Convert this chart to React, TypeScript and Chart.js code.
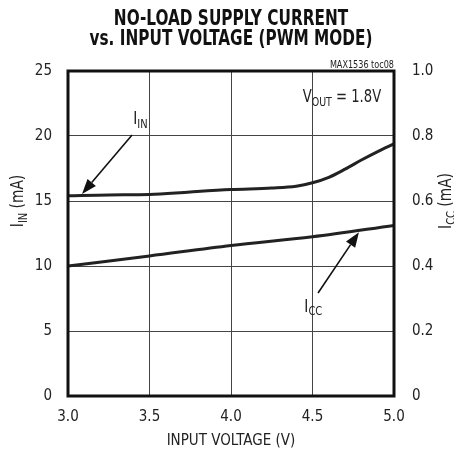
import React, { useEffect, useRef } from "react";
import { Chart, registerables } from "chart.js";

Chart.register(...registerables);

const FONT = "'Liberation Sans Narrow', 'DejaVu Sans Condensed', 'Arial Narrow', sans-serif";

const titleLines = ["NO-LOAD SUPPLY CURRENT", "vs. INPUT VOLTAGE (PWM MODE)"];
const noteText = "MAX1536 toc08";

const iinVoltages = [3.0, 3.25, 3.5, 3.75, 4.0, 4.25, 4.4, 4.5, 4.6, 4.7, 4.8, 4.9, 5.0];
const iinValues = [15.4, 15.47, 15.5, 15.7, 15.88, 16.0, 16.14, 16.4, 16.82, 17.45, 18.15, 18.8, 19.4];

const iccVoltages = [3.0, 3.5, 4.0, 4.5, 5.0];
const iccValues = [0.4, 0.431, 0.463, 0.49, 0.525];

const xTicks = [3.0, 3.5, 4.0, 4.5, 5.0];
const leftTicks = [0, 5, 10, 15, 20, 25];
const rightTicks = [0, 0.2, 0.4, 0.6, 0.8, 1.0];

// annotation anchors in data units (x: V, y: mA on left axis)
const iinArrow = { tail: [3.393, 20.08], tip: [3.086, 15.54], label: [3.40, 20.9] };
const iccArrow = { tail: [4.534, 7.92], tip: [4.785, 12.6], label: [4.45, 6.5] };
const voutLabel = [4.44, 22.6];

type Part = [string, boolean];

function partsWidth(ctx: CanvasRenderingContext2D, parts: Part[], size: number) {
  let w = 0;
  for (const [t, sub] of parts) {
    ctx.font = `${sub ? size * 0.72 : size}px ${FONT}`;
    w += ctx.measureText(t).width;
  }
  return w;
}

// draws text with subscripts, horizontally condensed by factor k
function drawParts(
  ctx: CanvasRenderingContext2D,
  parts: Part[],
  x: number,
  y: number,
  size: number,
  align: "left" | "center",
  k = 1
) {
  const w = partsWidth(ctx, parts, size);
  ctx.save();
  ctx.translate(x, y);
  ctx.scale(k, 1);
  let cx = align === "center" ? -w / 2 : 0;
  ctx.textAlign = "left";
  ctx.textBaseline = "alphabetic";
  for (const [t, sub] of parts) {
    ctx.font = `${sub ? size * 0.72 : size}px ${FONT}`;
    ctx.fillText(t, cx, sub ? size * 0.22 : 0);
    cx += ctx.measureText(t).width;
  }
  ctx.restore();
}

function arrow(ctx: CanvasRenderingContext2D, x1: number, y1: number, x2: number, y2: number) {
  const ang = Math.atan2(y2 - y1, x2 - x1);
  const hl = 15;
  const hw = 5.5;
  const bx = x2 - hl * Math.cos(ang);
  const by = y2 - hl * Math.sin(ang);
  ctx.beginPath();
  ctx.moveTo(x1, y1);
  ctx.lineTo(bx, by);
  ctx.lineWidth = 1.6;
  ctx.strokeStyle = "#111";
  ctx.stroke();
  ctx.beginPath();
  ctx.moveTo(x2, y2);
  ctx.lineTo(bx + hw * Math.sin(ang), by - hw * Math.cos(ang));
  ctx.lineTo(bx - hw * Math.sin(ang), by + hw * Math.cos(ang));
  ctx.closePath();
  ctx.fillStyle = "#111";
  ctx.fill();
}

const decorPlugin = {
  id: "decor",
  afterDraw(chart: any) {
    const { ctx, chartArea: a, scales } = chart;
    const xs = scales.x;
    const ys = scales.y;
    const px = (p: number[]) => [xs.getPixelForValue(p[0]), ys.getPixelForValue(p[1])];
    ctx.save();

    // frame
    ctx.lineWidth = 3;
    ctx.strokeStyle = "#111";
    ctx.strokeRect(a.left, a.top, a.right - a.left, a.bottom - a.top);

    // title (bold, condensed)
    ctx.fillStyle = "#111";
    const cx = (a.left + a.right) / 2;
    for (let i = 0; i < titleLines.length; i++) {
      ctx.save();
      ctx.translate(cx, 17 + i * 20);
      ctx.scale(0.81, 1);
      ctx.font = `bold 21px ${FONT}`;
      ctx.textAlign = "center";
      ctx.textBaseline = "alphabetic";
      ctx.fillText(titleLines[i], 0, 0);
      ctx.restore();
    }

    // note
    ctx.save();
    ctx.translate(a.right, a.top - 3);
    ctx.scale(0.9, 1);
    ctx.font = `10px ${FONT}`;
    ctx.textAlign = "right";
    ctx.fillStyle = "#222";
    ctx.fillText(noteText, 0, 0);
    ctx.restore();

    // axis titles
    ctx.fillStyle = "#222";
    ctx.font = `15px ${FONT}`;
    ctx.textAlign = "center";
    ctx.fillText("INPUT VOLTAGE (V)", cx, 437);

    const cy = ys.getPixelForValue(15);
    ctx.save();
    ctx.translate(10, cy);
    ctx.rotate(-Math.PI / 2);
    drawParts(ctx, [["I", false], ["IN", true], [" (mA)", false]], 0, 5, 17, "center", 0.9);
    ctx.restore();

    ctx.save();
    ctx.translate(a.right + 57, cy);
    ctx.rotate(-Math.PI / 2);
    drawParts(ctx, [["I", false], ["CC", true], [" (mA)", false]], 0, 0, 17, "center", 0.9);
    ctx.restore();

    // annotations
    ctx.fillStyle = "#222";
    const [vx, vy] = px(voutLabel);
    drawParts(ctx, [["V", false], ["OUT", true], [" = 1.8V", false]], vx, vy, 17, "left", 0.86);

    const [l1x, l1y] = px(iinArrow.label);
    drawParts(ctx, [["I", false], ["IN", true]], l1x, l1y, 17, "left", 0.9);
    const [t1x, t1y] = px(iinArrow.tail);
    const [h1x, h1y] = px(iinArrow.tip);
    arrow(ctx, t1x, t1y, h1x, h1y);

    const [l2x, l2y] = px(iccArrow.label);
    ctx.fillStyle = "#222";
    drawParts(ctx, [["I", false], ["CC", true]], l2x, l2y, 17, "left", 0.9);
    const [t2x, t2y] = px(iccArrow.tail);
    const [h2x, h2y] = px(iccArrow.tip);
    arrow(ctx, t2x, t2y, h2x, h2y);

    ctx.restore();
  },
};

export default function App() {
  const ref = useRef<HTMLCanvasElement | null>(null);

  useEffect(() => {
    if (!ref.current) return;
    const chart = new Chart(ref.current, {
      type: "line",
      data: {
        datasets: [
          {
            label: "IIN",
            data: iinVoltages.map((v, i) => ({ x: v, y: iinValues[i] })),
            yAxisID: "y",
            borderColor: "#222",
            borderWidth: 3,
            pointRadius: 0,
            tension: 0.4,
            cubicInterpolationMode: "monotone",
          },
          {
            label: "ICC",
            data: iccVoltages.map((v, i) => ({ x: v, y: iccValues[i] })),
            yAxisID: "y1",
            borderColor: "#222",
            borderWidth: 3,
            pointRadius: 0,
            tension: 0.4,
            cubicInterpolationMode: "monotone",
          },
        ],
      },
      options: {
        responsive: false,
        animation: false,
        layout: { padding: { top: 63, left: 0, right: 0, bottom: 0 } },
        plugins: { legend: { display: false }, tooltip: { enabled: false }, title: { display: false } },
        scales: {
          x: {
            type: "linear",
            min: 3,
            max: 5,
            afterBuildTicks: (s: any) => {
              s.ticks = xTicks.map((v) => ({ value: v }));
            },
            afterFit: (s: any) => {
              s.height = 58;
            },
            ticks: {
              padding: 12,
              color: "#222",
              font: { family: FONT, size: 15 },
              callback: (v: any) => Number(v).toFixed(1),
            },
            grid: { color: "#444", lineWidth: 1, drawTicks: false },
            border: { display: false },
          },
          y: {
            position: "left",
            min: 0,
            max: 25,
            afterBuildTicks: (s: any) => {
              s.ticks = leftTicks.map((v) => ({ value: v }));
            },
            afterFit: (s: any) => {
              s.width = 60;
            },
            ticks: {
              padding: 16,
              color: "#222",
              font: { family: FONT, size: 15 },
              callback: (v: any) => String(v),
            },
            grid: { color: "#444", lineWidth: 1, drawTicks: false },
            border: { display: false },
          },
          y1: {
            position: "right",
            min: 0,
            max: 1,
            afterBuildTicks: (s: any) => {
              s.ticks = rightTicks.map((v) => ({ value: v }));
            },
            afterFit: (s: any) => {
              s.width = 68;
            },
            ticks: {
              padding: 18,
              color: "#222",
              font: { family: FONT, size: 15 },
              callback: (v: any) => (Number(v) === 0 ? "0" : Number(v).toFixed(1)),
            },
            grid: { display: false, drawTicks: false },
            border: { display: false },
          },
        },
      },
      plugins: [decorPlugin],
    });
    return () => chart.destroy();
  }, []);

  return (
    <div style={{ width: 454, height: 446 }}>
      <canvas ref={ref} width={454} height={446} style={{ display: "block" }} />
    </div>
  );
}
